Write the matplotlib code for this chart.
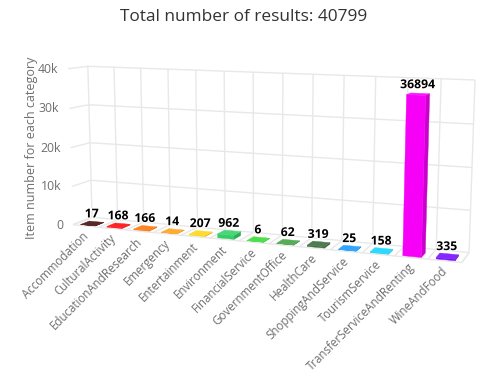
import numpy as np
import matplotlib
matplotlib.use("Agg")
import matplotlib.pyplot as plt
from matplotlib.patches import Polygon
import matplotlib.patheffects as pe

categories = ["Accommodation", "CulturalActivity", "EducationAndResearch", "Emergency",
              "Entertainment", "Environment", "FinancialService", "GovernmentOffice",
              "HealthCare", "ShoppingAndService", "TourismService",
              "TransferServiceAndRenting", "WineAndFood"]
values = [17, 168, 166, 14, 207, 962, 6, 62, 319, 25, 158, 36894, 335]
colors = ["#4a1414", "#ff1010", "#ff7a10", "#ffa51e", "#ffd91a", "#38d36b", "#3fdc3f",
          "#48a648", "#3f7040", "#1e9eff", "#1ad6ff", "#ff00ff", "#7a14ff"]
ytick_vals = [0, 10000, 20000, 30000, 40000]
ytick_labels = ["0", "10k", "20k", "30k", "40k"]
ymax = 40000

# (col fraction, height fraction, depth fraction) -> reference pixel anchors
anchors_3d = np.array([[0, 0, 1], [1, 0, 1], [0, 1, 1], [1, 1, 1],
                       [0, 0, 0], [1, 0, 0], [0, 1, 0]], float)
anchors_px = np.array([[92, 218], [469, 252], [88, 66], [475, 80],
                       [73, 224], [462, 263], [68, 69]], float)
A = []; b = []
for (X, Y, Z), (u, v) in zip(anchors_3d, anchors_px):
    A.append([X, Y, Z, 1, 0, 0, 0, 0, -u*X, -u*Y, -u*Z]); b.append(u)
    A.append([0, 0, 0, 0, X, Y, Z, 1, -v*X, -v*Y, -v*Z]); b.append(v)
P = np.append(np.linalg.lstsq(np.array(A), np.array(b), rcond=None)[0], 1).reshape(3, 4)


def project(c, val, d):
    p = P @ np.array([c / len(categories), val / ymax, d, 1.0])
    return p[0] / p[2], p[1] / p[2]


def shade(col, f):
    rgb = np.array(matplotlib.colors.to_rgb(col))
    return tuple(np.clip(rgb * f if f < 1 else rgb + (1 - rgb) * (f - 1), 0, 1))


fig = plt.figure(figsize=(4.91, 3.81), dpi=100)
ax = fig.add_axes([0, 0, 1, 1])
ax.set_xlim(0, 491); ax.set_ylim(381, 0); ax.axis("off")
n = len(categories)
grid = dict(color="#e8e8e8", lw=1.0, zorder=1, solid_capstyle="butt")


def seg(a, b):
    pa, pb = project(*a), project(*b)
    ax.plot([pa[0], pb[0]], [pa[1], pb[1]], **grid)


for t in ytick_vals:
    seg((0, t, 0), (0, t, 1))
    seg((0, t, 1), (n, t, 1))
for i in range(n + 1):
    seg((i, 0, 1), (i, ymax, 1))
    seg((i, 0, 0), (i, 0, 1))
seg((0, 0, 0), (n, 0, 0))
seg((n, 0, 0), (n, 0, 1))

for t, lab in zip(ytick_vals, ytick_labels):
    x, y = project(0, t, 0)
    ax.text(x - 10, y + 0.5, lab, ha="right", va="center", fontsize=8.8, color="#6e6e6e",
            family="Open Sans")

bw = 0.28
d0, d1 = 0.1, 0.55
for i, (val, col) in enumerate(zip(values, colors)):
    l, r = i + 0.5 - bw, i + 0.5 + bw
    faces = [
        ([(r, 0, d0), (r, 0, d1), (r, val, d1), (r, val, d0)], shade(col, 0.8)),
        ([(l, 0, d0), (r, 0, d0), (r, val, d0), (l, val, d0)], shade(col, 0.97)),
        ([(l, val, d0), (r, val, d0), (r, val, d1), (l, val, d1)], shade(col, 1.08)),
    ]
    for verts, fc in faces:
        ax.add_patch(Polygon([project(*p) for p in verts], closed=True, fc=fc, ec=fc,
                             lw=0.3, zorder=3))
    x, y = project(i + 0.5, val, (d0 + d1) / 2)
    ax.text(x - 0.5, y - 3, str(val), ha="center", va="bottom", fontsize=8.8, fontweight="bold",
            color="black", zorder=5, family="Open Sans",
            path_effects=[pe.withStroke(linewidth=1.5, foreground="white")])
    fx, fy = project(i + 0.5, 0, 0)
    ax.text(fx + 1, fy + 8, categories[i], rotation=45, rotation_mode="anchor",
            ha="right", va="center", fontsize=8.3, color="#6e6e6e", family="Open Sans")

ax.text(32, 148, "Item number for each category", rotation=90, ha="center", va="center",
        fontsize=9, color="#6e6e6e", family="Open Sans")
ax.text(243.5, 17, "Total number of results: 40799", ha="center", va="center",
        fontsize=12.45, color="#333333", family="Open Sans")
fig.savefig("out.png", dpi=100, facecolor="white")
